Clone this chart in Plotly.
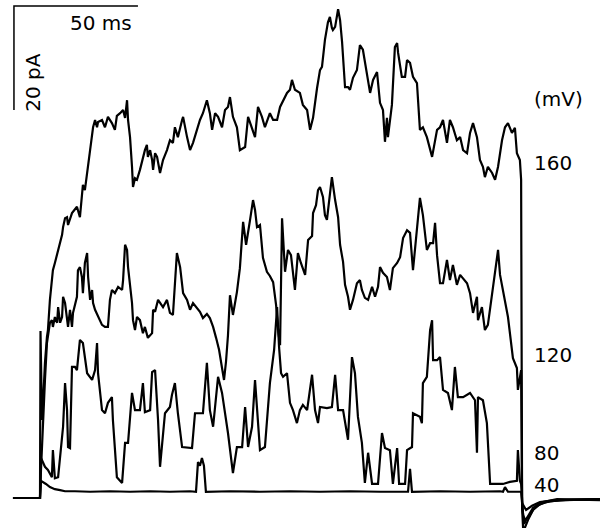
import plotly.graph_objects as go

# Single-channel current traces (time in ms from pulse onset, current in pA)
trace_40mV = [(-10.9, 0), (0, 0), (0.4, 3.3), (1.2, 3.1), (2.4, 2.7), (4.0, 2.1), (6.0, 1.7), (8.1, 1.5),
              (10.1, 1.3), (14.1, 1.3), (20.2, 1.2), (28.2, 1.3), (36.3, 1.2), (44.4, 1.3), (52.4, 1.2),
              (60.5, 1.3), (62.9, 1.2), (63.7, 6.9), (64.5, 6.2), (65.3, 7.7), (66.1, 6.2), (66.9, 1.2),
              (76.6, 1.3), (88.7, 1.2), (100.8, 1.3), (112.9, 1.2), (125.0, 1.3), (137.1, 1.2),
              (147.6, 1.3), (148.4, 1.2), (149.2, 5.6), (150.0, 1.2), (161.3, 1.3), (173.4, 1.2),
              (185.5, 1.3), (186.7, 1.2), (187.5, 2.1), (188.7, 1.2), (194.0, 1.2), (194.4, -1.0),
              (194.8, -1.3), (196.0, -2.3), (198.4, -1.5), (201.6, -0.8), (207.7, -0.4), (225.8, -0.2)]

trace_80mV = [(-10.9, 0), (0, 0), (0.4, 7.7), (1.2, 6.7), (2.0, 6.0), (3.2, 5.4), (4.8, 4.0), (5.2, 9.2),
              (6.0, 3.8), (7.3, 4.0), (8.9, 12.5), (9.3, 13.7), (10.1, 22.1), (10.9, 16.9), (11.3, 9.8),
              (12.1, 9.6), (12.9, 25.2), (14.1, 25.2), (14.9, 24.6), (16.1, 30.4), (17.3, 29.8),
              (19.0, 24.0), (21.0, 22.7), (22.2, 24.6), (23.0, 29.8), (23.4, 24.0), (25.0, 16.9),
              (26.2, 16.3), (27.4, 18.3), (29.0, 19.4), (29.4, 15.0), (31.0, 4.0), (33.1, 2.9),
              (34.3, 10.6), (35.5, 10.6), (37.1, 20.2), (38.3, 16.9), (40.3, 16.9), (41.5, 22.1),
              (42.3, 16.5), (44.4, 16.9), (45.2, 24.2), (46.4, 24.6), (47.6, 15.0), (48.4, 6.0),
              (49.2, 9.8), (50.4, 16.3), (52.4, 17.5), (53.2, 19.8), (54.4, 22.1), (55.6, 16.3),
              (57.3, 9.8), (61.3, 9.6), (62.5, 16.3), (65.7, 16.3), (67.3, 26.0), (68.5, 16.9),
              (69.8, 13.7), (71.8, 23.3), (73.4, 20.2), (74.6, 16.3), (75.8, 12.5), (77.8, 4.8),
              (79.4, 9.8), (81.5, 9.8), (82.7, 17.5), (83.9, 9.8), (85.5, 13.7), (86.7, 22.7),
              (88.7, 9.2), (90.7, 9.8), (91.9, 16.3), (92.7, 22.1), (94.4, 28.5), (95.6, 36.7),
              (96.4, 29.0), (97.2, 24.0), (98.0, 23.3), (99.6, 24.0), (100.8, 18.3), (102.0, 16.9),
              (103.6, 14.4), (104.8, 16.9), (106.0, 17.9), (107.7, 16.9), (109.7, 23.7), (110.9, 16.9),
              (112.1, 14.4), (112.9, 17.5), (115.7, 17.3), (117.7, 17.5), (119.0, 23.7), (120.2, 16.9),
              (122.2, 16.9), (124.2, 11.2), (125.8, 27.1), (127.0, 24.0), (128.2, 15.6), (129.8, 10.6),
              (131.0, 2.9), (132.3, 8.7), (133.9, 2.7), (136.3, 2.7), (137.9, 12.5), (139.1, 9.6),
              (141.1, 9.2), (142.3, 2.7), (144.0, 9.6), (144.8, 2.7), (147.2, 2.7), (148.0, 9.2),
              (150.0, 9.8), (150.4, 16.3), (153.2, 15.6), (154.0, 14.4), (154.4, 22.1), (156.0, 23.3),
              (157.3, 32.3), (158.1, 34.2), (158.5, 26.5), (160.1, 26.5), (161.3, 27.1), (162.5, 20.8),
              (164.5, 20.2), (166.1, 16.9), (167.3, 25.2), (168.5, 19.4), (170.6, 19.4), (173.4, 20.2),
              (175.4, 18.8), (176.2, 8.7), (176.6, 19.4), (178.6, 18.8), (180.2, 14.4), (181.5, 2.7),
              (186.7, 2.7), (189.5, 3.1), (192.3, 3.3), (192.7, 9.2), (193.5, 3.3), (194.0, 2.7),
              (194.8, -3.3), (195.6, -4.2), (197.2, -3.5), (199.6, -1.7), (203.6, -0.8), (209.7, -0.4),
              (225.8, -0.2)]

trace_120mV = [(-10.9, 0), (0, 0), (0.4, 5.4), (1.2, 15.0), (2.0, 22.7), (2.8, 29.8), (4.0, 33.7),
               (4.8, 34.2), (5.2, 32.9), (6.0, 34.8), (6.9, 33.7), (7.3, 36.7), (8.1, 33.7), (8.9, 34.8),
               (9.3, 38.7), (10.1, 37.5), (10.9, 33.7), (11.3, 32.9), (12.1, 36.2), (12.9, 32.9),
               (13.3, 35.6), (14.9, 38.7), (15.3, 43.8), (16.1, 44.4), (16.9, 42.5), (17.3, 39.4),
               (18.1, 45.2), (19.0, 47.1), (19.4, 42.5), (20.2, 38.1), (21.0, 40.0), (21.4, 37.5),
               (22.2, 36.2), (23.4, 34.8), (25.0, 33.3), (26.2, 32.9), (27.4, 32.9), (28.2, 38.1),
               (29.0, 40.0), (30.2, 39.4), (31.5, 40.6), (33.1, 40.0), (33.5, 41.9), (34.3, 48.7),
               (35.1, 47.7), (35.5, 44.4), (37.1, 37.5), (37.5, 34.2), (38.3, 32.3), (39.1, 34.8),
               (40.3, 34.2), (41.5, 31.7), (42.3, 32.9), (43.5, 30.8), (45.2, 31.7), (45.6, 36.2),
               (46.4, 35.8), (47.6, 38.1), (48.4, 37.5), (49.6, 36.7), (51.2, 38.1), (52.4, 35.6),
               (53.6, 35.2), (55.2, 47.1), (56.5, 44.4), (57.7, 39.4), (59.3, 38.1), (60.5, 36.2),
               (61.7, 37.5), (62.9, 36.7), (64.5, 35.8), (65.7, 34.6), (67.3, 35.4), (68.5, 34.6),
               (69.8, 32.9), (71.0, 30.8), (72.2, 28.5), (73.4, 25.0), (74.2, 22.7), (75.0, 26.2),
               (75.8, 31.3), (76.6, 39.0), (77.8, 35.2), (79.4, 39.6), (80.6, 44.2), (81.9, 53.1),
               (83.1, 48.7), (84.7, 53.5), (85.9, 57.3), (86.7, 55.4), (87.5, 52.1), (88.7, 52.5),
               (89.9, 46.2), (91.5, 43.5), (92.7, 42.7), (94.0, 41.5), (95.2, 37.1), (96.0, 32.3),
               (96.8, 29.4), (97.6, 53.8), (98.8, 43.5), (100.0, 47.7), (101.2, 46.7), (102.8, 40.0),
               (104.0, 47.1), (105.2, 45.2), (106.9, 42.9), (108.1, 49.6), (109.7, 50.4), (110.1, 54.8),
               (111.3, 56.3), (112.1, 59.2), (112.9, 59.8), (114.1, 57.9), (114.9, 54.4), (115.7, 53.5),
               (116.9, 58.7), (117.7, 61.7), (119.0, 57.3), (120.2, 54.0), (121.0, 48.7), (122.2, 45.4),
               (123.0, 41.0), (124.2, 38.7), (125.0, 36.2), (126.2, 38.1), (127.8, 41.3), (129.0, 41.9),
               (129.8, 40.0), (131.0, 38.5), (132.3, 38.1), (133.9, 40.6), (135.1, 38.7), (136.3, 40.6),
               (137.1, 44.4), (138.3, 43.3), (139.9, 42.5), (141.1, 40.0), (142.3, 44.2), (144.0, 45.2),
               (145.2, 46.3), (146.4, 50.0), (148.0, 51.5), (149.2, 51.0), (150.4, 43.8), (152.0, 52.1),
               (153.2, 57.7), (154.4, 54.4), (156.0, 47.7), (157.3, 49.0), (158.5, 49.0), (159.3, 52.9),
               (160.1, 46.7), (161.3, 41.3), (162.5, 41.3), (164.1, 45.8), (165.3, 41.9), (166.5, 44.8),
               (168.1, 41.0), (169.4, 42.9), (170.6, 42.3), (172.2, 41.3), (173.4, 39.4), (174.6, 35.6),
               (176.2, 38.7), (176.6, 34.2), (178.2, 36.7), (179.4, 32.3), (180.6, 33.3), (182.3, 39.4),
               (183.5, 43.8), (184.7, 47.7), (185.5, 42.9), (187.5, 37.5), (188.7, 34.8), (190.7, 26.9),
               (192.3, 25.0), (192.7, 20.8), (194.0, 24.6), (194.4, -1.3), (195.2, -5.0), (196.4, -3.8),
               (198.8, -1.9), (202.8, -0.8), (208.5, -0.2), (225.8, -0.4)]

trace_160mV = [(-10.9, 0), (0, 0), (0.2, 32.1), (0.8, 15.0), (1.2, 17.9), (2.0, 26.0), (2.8, 31.0),
               (3.2, 32.3), (4.0, 38.1), (5.2, 43.8), (6.0, 45.2), (7.3, 47.7), (8.9, 50.6), (9.3, 52.1),
               (10.1, 53.8), (10.9, 54.0), (11.3, 52.5), (12.9, 54.8), (14.1, 55.4), (14.9, 56.0),
               (16.1, 54.0), (16.9, 57.9), (17.3, 60.2), (18.1, 59.2), (19.0, 62.1), (19.4, 63.7),
               (20.2, 66.9), (21.4, 71.3), (22.2, 72.7), (23.0, 71.3), (23.4, 72.3), (25.0, 72.7),
               (26.2, 71.3), (27.4, 73.3), (29.0, 72.1), (30.2, 70.8), (31.0, 73.5), (32.3, 74.0),
               (33.5, 74.6), (34.3, 73.1), (35.1, 76.5), (35.5, 72.7), (36.3, 69.4), (37.1, 63.7),
               (37.5, 59.8), (38.3, 61.5), (39.1, 61.2), (40.3, 63.1), (41.5, 65.6), (42.3, 66.9),
               (43.1, 67.9), (43.5, 65.6), (44.4, 66.9), (45.2, 65.0), (45.6, 63.1), (46.4, 66.3),
               (47.2, 65.6), (48.4, 62.5), (49.6, 65.0), (51.2, 66.9), (52.4, 68.8), (53.6, 68.3),
               (54.4, 71.3), (55.6, 69.4), (57.3, 72.7), (57.7, 73.3), (59.3, 69.4), (60.5, 66.9),
               (61.7, 68.3), (63.3, 70.8), (64.5, 72.7), (65.7, 74.0), (67.3, 76.5), (68.5, 74.0),
               (69.4, 70.8), (70.6, 74.0), (71.8, 73.3), (73.4, 71.3), (74.6, 74.6), (75.8, 75.2),
               (76.6, 77.1), (77.8, 73.3), (79.4, 71.3), (80.6, 66.9), (82.7, 67.5), (83.9, 73.3),
               (85.5, 71.3), (86.7, 69.4), (87.9, 75.2), (89.5, 73.3), (90.7, 71.3), (91.9, 72.7),
               (92.7, 74.0), (94.0, 72.7), (95.6, 72.7), (96.8, 75.2), (98.0, 76.5), (99.6, 77.9),
               (100.8, 78.5), (101.6, 80.4), (102.8, 78.5), (104.8, 77.9), (106.0, 75.6), (107.7, 74.6),
               (108.9, 70.8), (110.1, 73.1), (111.7, 78.8), (112.9, 82.3), (113.7, 82.9), (114.1, 84.8),
               (114.9, 88.1), (116.1, 91.5), (116.9, 92.5), (117.7, 90.4), (118.1, 90.0), (119.0, 90.6),
               (119.8, 93.3), (120.2, 94.0), (121.0, 91.9), (121.8, 87.7), (123.0, 79.0), (124.2, 79.0),
               (125.0, 78.5), (126.2, 80.8), (127.8, 82.3), (129.0, 87.1), (130.2, 86.2), (131.9, 81.7),
               (133.1, 77.9), (134.3, 80.4), (135.9, 81.9), (137.1, 76.0), (138.3, 74.6), (139.1, 68.5),
               (139.9, 73.1), (140.3, 69.4), (141.9, 75.6), (143.1, 86.7), (144.0, 87.5), (144.4, 85.6),
               (145.9, 81.0), (147.2, 81.0), (148.0, 84.2), (149.2, 83.7), (150.4, 81.0), (152.0, 79.8),
               (153.2, 70.8), (154.4, 71.3), (156.0, 69.4), (158.1, 65.6), (160.1, 70.8), (161.3, 71.3),
               (162.5, 72.7), (164.1, 68.3), (165.3, 72.7), (166.5, 71.3), (168.1, 68.8), (169.4, 69.4),
               (170.6, 66.9), (172.2, 66.3), (173.4, 70.2), (174.6, 72.1), (176.2, 69.4), (177.4, 65.0),
               (178.6, 63.7), (179.4, 61.7), (180.6, 63.7), (182.3, 62.5), (183.5, 61.2), (184.7, 63.7),
               (186.3, 68.8), (187.5, 71.3), (188.7, 72.1), (190.3, 70.2), (191.5, 71.2), (192.3, 66.3),
               (193.5, 65.0), (194.0, 61.2), (194.4, -2.0), (194.8, -5.8), (195.6, -5.6), (196.8, -4.2),
               (198.8, -2.3), (201.6, -1.2), (205.6, -0.6), (211.7, -0.4), (225.8, -0.2)]

voltage_labels = ["160", "120", "80", "40"]
label_levels_pA = [64.4, 27.5, 8.7, 2.5]
scale_time_ms = 50
scale_current_pA = 20

fig = go.Figure()
for tr in [trace_40mV, trace_80mV, trace_120mV, trace_160mV]:
    ts, cs = zip(*tr)
    fig.add_trace(go.Scatter(x=list(ts), y=list(cs), mode="lines",
                             line=dict(color="black", width=2.2), hoverinfo="skip"))

# scale bar
sx0, sy0 = -10.5, 94.6
fig.add_trace(go.Scatter(x=[sx0 + scale_time_ms, sx0, sx0],
                         y=[sy0, sy0, sy0 - scale_current_pA], mode="lines",
                         line=dict(color="black", width=1.5), hoverinfo="skip"))

font = dict(family="DejaVu Sans", size=20, color="black")
fig.add_annotation(x=24.6, y=91.4, text="50 ms", showarrow=False, font=font)
fig.add_annotation(x=-2.9, y=80.0, text="20 pA", showarrow=False, font=font, textangle=-90)
fig.add_annotation(x=198.4, y=76.7, text="(mV)", showarrow=False, font=font, xanchor="left")
for lab, lev in zip(voltage_labels, label_levels_pA):
    fig.add_annotation(x=198.2, y=lev, text=lab, showarrow=False, font=font, xanchor="left")

fig.update_layout(width=607, height=528, margin=dict(l=0, r=0, t=0, b=0),
                  paper_bgcolor="white", plot_bgcolor="white", showlegend=False,
                  xaxis=dict(range=[-16.13, 228.63], visible=False, fixedrange=True),
                  yaxis=dict(range=[-5.77, 95.77], visible=False, fixedrange=True))
fig.write_html("out.html", config={"displayModeBar": False},
               post_script="document.body.style.margin='0px';document.body.style.overflow='hidden';")
